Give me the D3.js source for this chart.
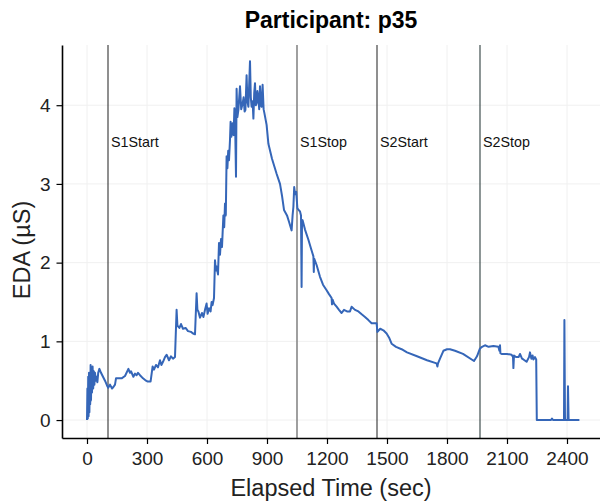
<!DOCTYPE html>
<html>
<head>
  <meta charset="utf-8">
  <title>Participant p35 EDA</title>
  <script src="https://d3js.org/d3.v7.min.js"></script>
  <style>
    body { margin: 0; background: white; }
    text { font-family: "Liberation Sans", Arial, Helvetica, sans-serif; }
  </style>
</head>
<body>
  <div id="chart"></div>
  <script>
    // EDA readings taken off the original plot (seconds, microsiemens)
    var timeSec = [
      0, 2, 4, 6, 8, 10, 12, 14, 16, 18, 20, 22, 25, 28, 31, 34, 37, 40, 44, 48, 52, 56, 62, 70, 80, 90, 100,
      106, 115, 125, 132, 140, 145, 160, 173, 190, 207, 215, 220, 232, 240, 248, 255, 265, 280, 295, 302, 318, 328, 335, 345, 355, 365, 372, 380, 390, 398, 410, 420, 430, 440,
      448, 452, 462, 470, 480, 493, 505, 520, 530, 540, 548, 552, 557, 565, 575, 582, 590, 598, 603, 610, 618, 623, 628, 635, 640, 644, 648, 655, 660, 665, 670, 675, 682, 686, 690, 694, 698,
      702, 706, 710, 715, 718, 722, 728, 733, 737, 741, 745, 748, 752, 757, 765, 771, 778, 783, 788, 792, 798, 802, 807, 815, 819, 823, 828, 832, 836, 840, 844, 848, 852, 857, 861, 865, 869, 873, 878, 883, 887, 898,
      907, 925, 948, 965, 975, 985, 1000, 1010, 1023, 1028, 1032, 1036, 1040, 1046, 1052, 1058, 1065, 1070, 1073, 1075, 1078,
      1090, 1107, 1120, 1132, 1134, 1136, 1148, 1165, 1180, 1198, 1210, 1223, 1225, 1228, 1235, 1248, 1260, 1273, 1285, 1300, 1315, 1323, 1340, 1357, 1375, 1390, 1407, 1423, 1448, 1452, 1466, 1482, 1498, 1510, 1523, 1545,
      1573, 1600, 1650, 1700, 1748, 1752, 1755, 1765, 1782, 1800, 1815, 1840, 1880, 1935, 1950, 1965, 1975, 1990, 2008, 2032, 2057, 2062, 2065, 2067, 2073, 2100, 2123, 2130, 2132, 2135, 2145, 2158, 2165, 2175, 2182, 2198, 2210, 2215, 2222, 2228, 2232, 2240, 2246,
      2249, 2320, 2325, 2330, 2385, 2387, 2390, 2403, 2405, 2408, 2462
    ];
    var edaValues = [
      0, 0.4, 0.02, 0.55, 0.05, 0.6, 0.1, 0.5, 0.2, 0.7, 0.25, 0.6, 0.35, 0.68, 0.4, 0.62, 0.45, 0.6, 0.5, 0.55, 0.48, 0.6, 0.65, 0.6, 0.55, 0.5, 0.44,
      0.41, 0.45, 0.4, 0.42, 0.45, 0.53, 0.53, 0.53, 0.56, 0.65, 0.6, 0.62, 0.55, 0.59, 0.57, 0.6, 0.57, 0.53, 0.5, 0.49, 0.49, 0.68, 0.64, 0.7, 0.67, 0.76, 0.7, 0.74, 0.8, 0.83, 0.76, 0.81, 0.78, 0.8,
      1.4, 1.2, 1.17, 1.22, 1.16, 1.17, 1.13, 1.12, 1.1, 1.09, 1.61, 1.4, 1.38, 1.3, 1.36, 1.31, 1.4, 1.48, 1.35, 1.42, 1.38, 1.5, 1.46, 1.55, 2.03, 1.9, 1.95, 1.85, 2.25, 2.1, 2.3, 2.2, 2.6, 2.45, 2.75, 2.6, 3.35,
      3.2, 3.42, 3.3, 3.56, 3.79, 3.6, 3.77, 3.62, 3.96, 3.7, 3.09, 4.21, 3.85, 3.94, 4.24, 3.95, 4.02, 4.1, 3.92, 3.94, 4.38, 4.05, 3.98, 4.56, 4.1, 3.98, 4.05, 3.83, 4.15, 4.28, 4.0, 4.02, 4.18, 4.1, 3.95, 4.24, 4.0, 3.98, 4.26, 3.95, 3.9, 3.75,
      3.51, 3.32, 3.13, 3.0, 2.85, 2.67, 2.6, 2.52, 2.41, 2.6, 2.71, 2.96, 2.87, 2.9, 2.69, 2.67, 2.65, 2.6, 1.69, 2.5, 2.54,
      2.42, 2.29, 2.18, 2.08, 1.88, 2.05, 1.97, 1.82, 1.72, 1.65, 1.6, 1.55, 1.47, 1.53, 1.48, 1.44, 1.4, 1.36, 1.4, 1.38, 1.38, 1.44, 1.4, 1.38, 1.34, 1.31, 1.27, 1.23, 1.23, 1.12, 1.16, 1.14, 1.1, 1.05, 0.97, 0.93,
      0.9, 0.86, 0.81, 0.76, 0.72, 0.68, 0.72, 0.78, 0.88, 0.9, 0.9, 0.88, 0.84, 0.75, 0.81, 0.91, 0.93, 0.95, 0.93, 0.94, 0.93, 0.88, 0.95, 0.85, 0.84, 0.84, 0.83, 0.8, 0.66, 0.82, 0.8, 0.8, 0.84, 0.78, 0.77, 0.74, 0.8, 0.86, 0.78, 0.82, 0.77, 0.8, 0.77,
      0, 0, 0.02, 0, 0, 1.27, 0, 0, 0.43, 0, 0
    ];
    var eventNames = ["S1Start", "S1Stop", "S2Start", "S2Stop"];
    var eventTimes = [105, 1050, 1450, 1965];
    var eventColors = ["#333333", "#888888", "#333333", "#2f3f3f"];
    var xTicks = [0, 300, 600, 900, 1200, 1500, 1800, 2100, 2400];
    var yTicks = [0, 1, 2, 3, 4];

    var width = 600, height = 503;
    var plotL = 62, plotR = 600, plotT = 45, plotB = 438;

    var svg = d3.select("#chart").append("svg")
      .attr("width", width)
      .attr("height", height);

    var x = d3.scaleLinear().domain([-125, 2565]).range([plotL, plotR]);
    var y = d3.scaleLinear().domain([-0.228, 4.765]).range([plotB, plotT]);

    // grid
    var grid = svg.append("g");
    grid.selectAll(".gx").data(xTicks).enter().append("line")
      .attr("x1", d => x(d)).attr("x2", d => x(d))
      .attr("y1", plotT).attr("y2", plotB)
      .attr("stroke", "#f0f0f0").attr("stroke-width", 1);
    grid.selectAll(".gy").data(yTicks).enter().append("line")
      .attr("x1", plotL).attr("x2", plotR)
      .attr("y1", d => y(d)).attr("y2", d => y(d))
      .attr("stroke", "#f0f0f0").attr("stroke-width", 1);

    // event markers
    var ev = svg.append("g");
    eventTimes.forEach(function (t, i) {
      ev.append("line")
        .attr("x1", x(t)).attr("x2", x(t))
        .attr("y1", plotT).attr("y2", plotB)
        .attr("stroke", eventColors[i])
        .attr("stroke-width", i == 1 ? 1.6 : 1.1);
      ev.append("text")
        .attr("x", x(t) + 3).attr("y", 147)
        .attr("font-size", "14.3px")
        .attr("fill", "#111")
        .text(eventNames[i]);
    });

    // EDA trace
    var pts = timeSec.map((t, i) => [t, edaValues[i]]);
    var line = d3.line().x(d => x(d[0])).y(d => y(d[1]));
    svg.append("path")
      .datum(pts)
      .attr("d", line)
      .attr("fill", "none")
      .attr("stroke", "#3566b8")
      .attr("stroke-width", 2)
      .attr("stroke-linejoin", "round");

    // axes
    var xAxis = svg.append("g")
      .attr("transform", "translate(0," + plotB + ")")
      .call(d3.axisBottom(x).tickValues(xTicks).tickFormat(d3.format("d"))
        .tickSize(6).tickPadding(8).tickSizeOuter(0));
    var yAxis = svg.append("g")
      .attr("transform", "translate(" + plotL + ",0)")
      .call(d3.axisLeft(y).tickValues(yTicks).tickFormat(d3.format("d"))
        .tickSize(5.5).tickPadding(6).tickSizeOuter(0));

    [xAxis, yAxis].forEach(function (a) {
      a.select(".domain").attr("stroke", "#000").attr("stroke-width", 1.6);
      a.selectAll(".tick line").attr("stroke", "#000").attr("stroke-width", 1.2);
      a.selectAll(".tick text")
        .attr("fill", "#222")
        .style("font-size", "19px")
        .style("font-family", '"Liberation Sans", Arial, sans-serif');
    });

    // titles
    svg.append("text")
      .attr("x", (plotL + plotR) / 2).attr("y", 28)
      .attr("text-anchor", "middle")
      .attr("font-size", "23px").attr("font-weight", "bold")
      .text("Participant: p35");

    svg.append("text")
      .attr("x", (plotL + plotR) / 2).attr("y", 496)
      .attr("text-anchor", "middle")
      .attr("font-size", "23.5px")
      .attr("fill", "#222")
      .text("Elapsed Time (sec)");

    svg.append("text")
      .attr("transform", "translate(30,250) rotate(-90)")
      .attr("text-anchor", "middle")
      .attr("font-size", "23.5px")
      .attr("fill", "#222")
      .text("EDA (µS)");
  </script>
</body>
</html>
